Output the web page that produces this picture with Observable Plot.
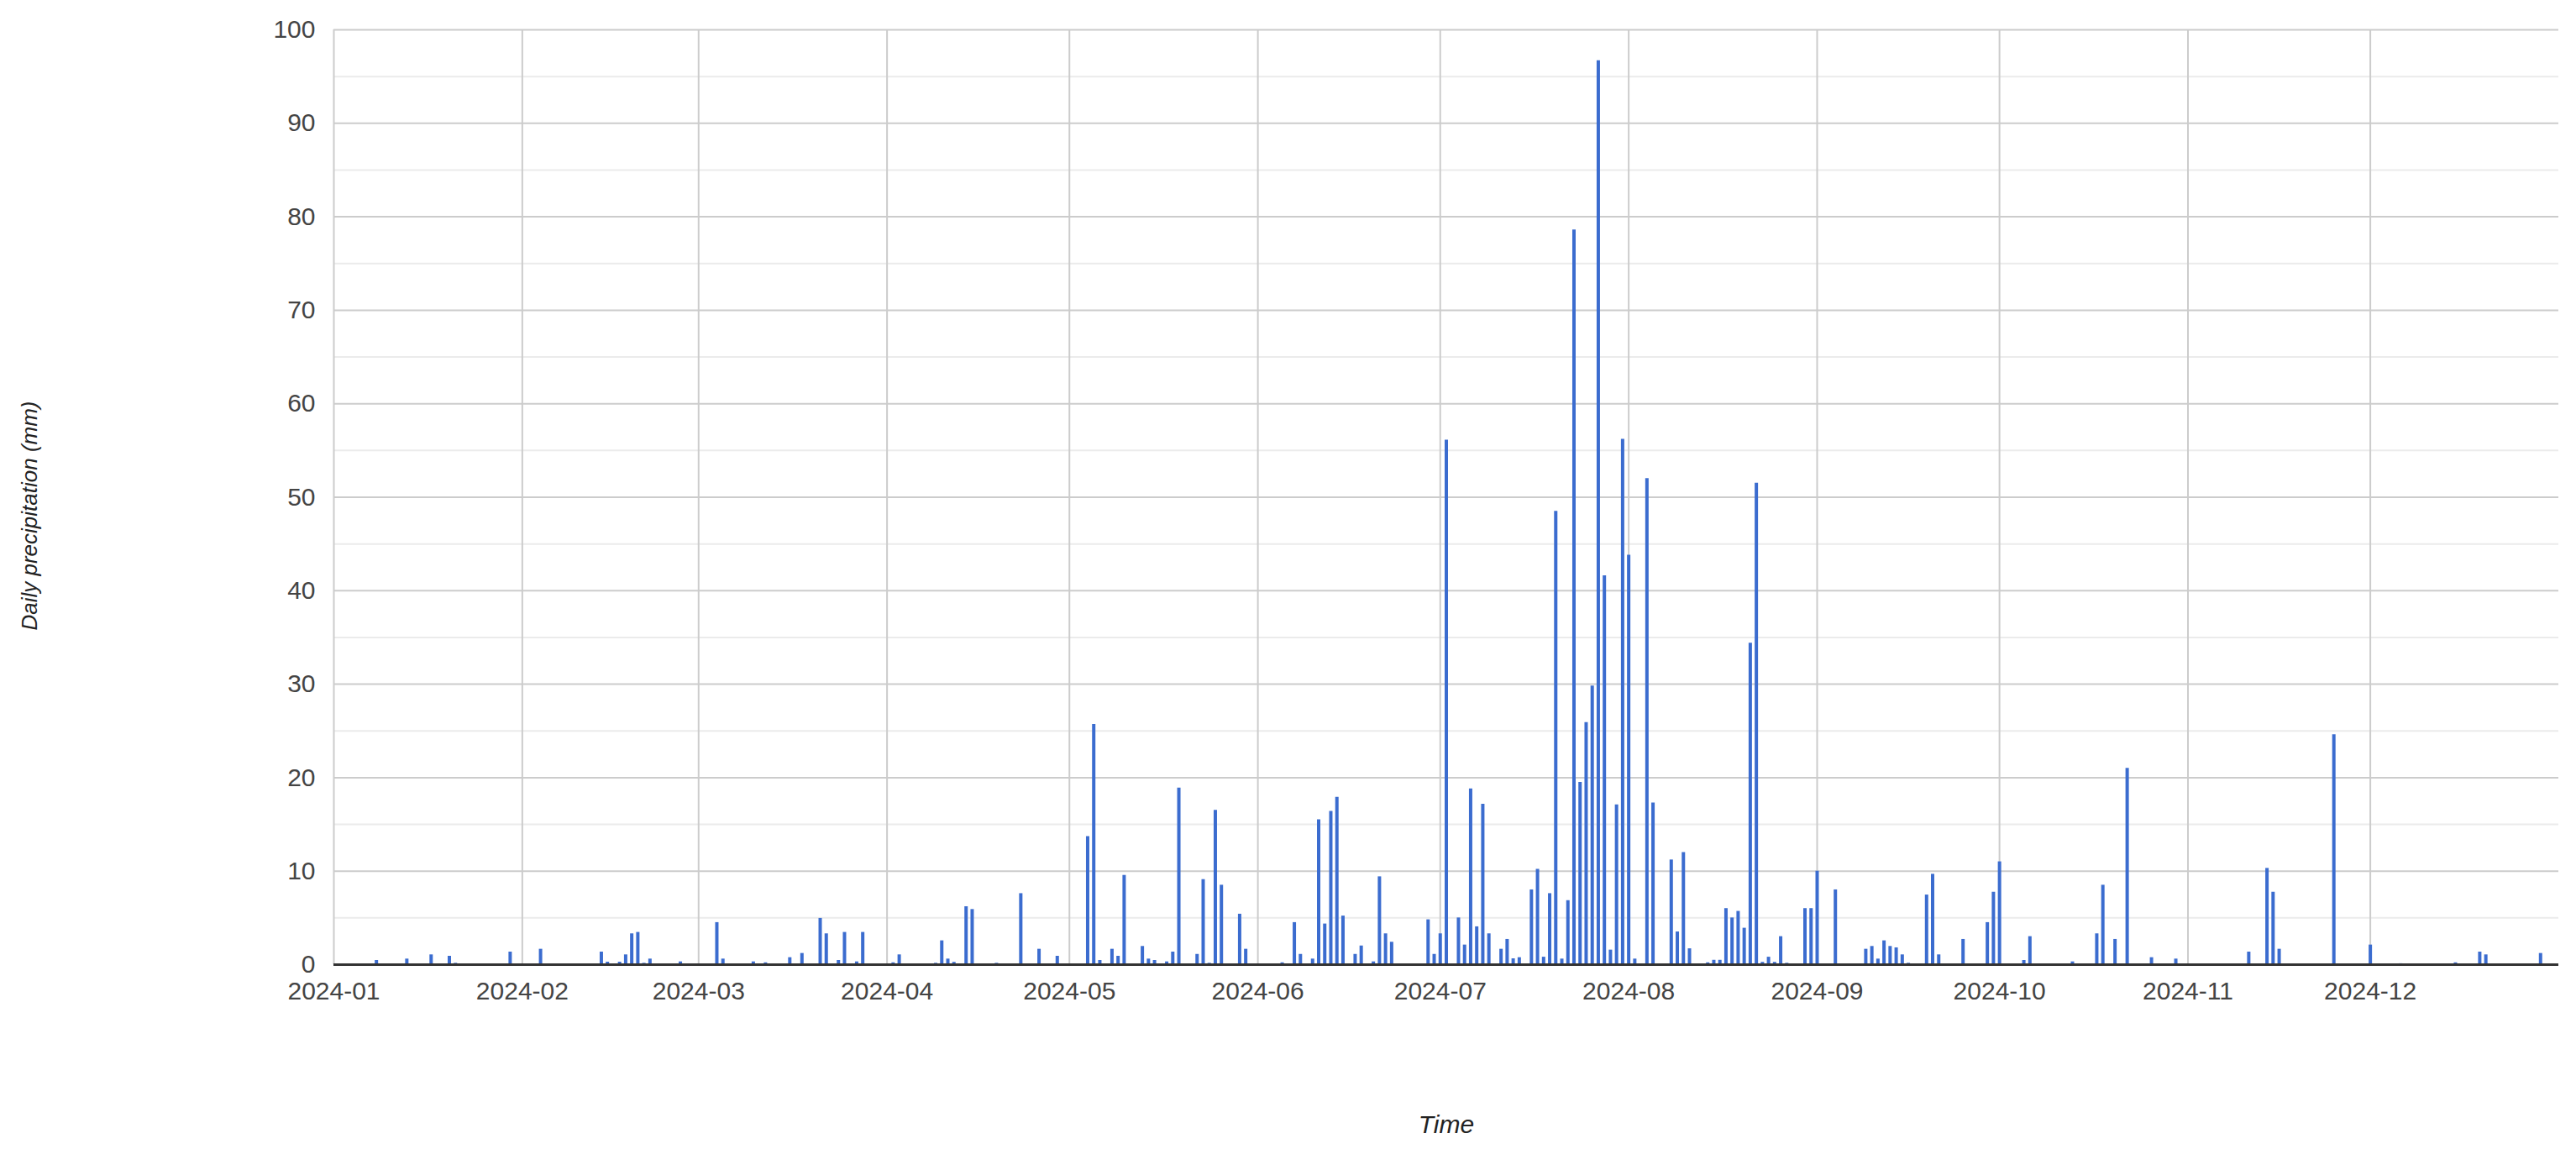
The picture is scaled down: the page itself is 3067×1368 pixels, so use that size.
<!DOCTYPE html>
<html>
<head>
<meta charset="utf-8">
<script src="https://cdn.jsdelivr.net/npm/d3@7"></script>
<script src="https://cdn.jsdelivr.net/npm/@observablehq/plot@0.6"></script>
<style>
html, body { margin: 0; padding: 0; background: #ffffff; }
#chart svg { display: block; }
</style>
</head>
<body>
<div id="chart"></div>
<script>
// Daily precipitation (mm), 2024 — only days with visible rain
const rainDates = [
  "2024-01-08","2024-01-13","2024-01-17","2024-01-20","2024-01-21","2024-01-30",
  "2024-02-04","2024-02-14","2024-02-15","2024-02-17","2024-02-18","2024-02-19","2024-02-20","2024-02-21","2024-02-22","2024-02-27",
  "2024-03-04","2024-03-05","2024-03-10","2024-03-12","2024-03-16","2024-03-18","2024-03-21","2024-03-22","2024-03-24","2024-03-25","2024-03-27","2024-03-28",
  "2024-04-02","2024-04-03","2024-04-09","2024-04-10","2024-04-11","2024-04-12","2024-04-14","2024-04-15","2024-04-19","2024-04-23","2024-04-26","2024-04-29",
  "2024-05-04","2024-05-05","2024-05-06","2024-05-08","2024-05-09","2024-05-10","2024-05-13","2024-05-14","2024-05-15","2024-05-17","2024-05-18","2024-05-19","2024-05-22","2024-05-23","2024-05-24","2024-05-25","2024-05-26","2024-05-29","2024-05-30",
  "2024-06-05","2024-06-07","2024-06-08","2024-06-10","2024-06-11","2024-06-12","2024-06-13","2024-06-14","2024-06-15","2024-06-17","2024-06-18","2024-06-20","2024-06-21","2024-06-22","2024-06-23","2024-06-29","2024-06-30",
  "2024-07-01","2024-07-02","2024-07-04","2024-07-05","2024-07-06","2024-07-07","2024-07-08","2024-07-09","2024-07-11","2024-07-12","2024-07-13","2024-07-14","2024-07-16","2024-07-17","2024-07-18","2024-07-19","2024-07-20","2024-07-21","2024-07-22","2024-07-23","2024-07-24","2024-07-25","2024-07-26","2024-07-27","2024-07-28","2024-07-29","2024-07-30","2024-07-31",
  "2024-08-01","2024-08-02","2024-08-04","2024-08-05","2024-08-08","2024-08-09","2024-08-10","2024-08-11","2024-08-14","2024-08-15","2024-08-16","2024-08-17","2024-08-18","2024-08-19","2024-08-20","2024-08-21","2024-08-22","2024-08-23","2024-08-24","2024-08-25","2024-08-26","2024-08-27","2024-08-30","2024-08-31",
  "2024-09-01","2024-09-04","2024-09-09","2024-09-10","2024-09-11","2024-09-12","2024-09-13","2024-09-14","2024-09-15","2024-09-16","2024-09-19","2024-09-20","2024-09-21","2024-09-25","2024-09-29","2024-09-30",
  "2024-10-01","2024-10-05","2024-10-06","2024-10-13","2024-10-17","2024-10-18","2024-10-20","2024-10-22","2024-10-26","2024-10-30",
  "2024-11-11","2024-11-14","2024-11-15","2024-11-16","2024-11-25",
  "2024-12-01","2024-12-06","2024-12-15","2024-12-19","2024-12-20","2024-12-29"
];
const rainMm = [
  0.45,0.6,1.05,0.9,0.15,1.35,
  1.65,1.35,0.27,0.27,1.05,3.3,3.45,0.15,0.6,0.3,
  4.5,0.6,0.3,0.2,0.75,1.2,4.95,3.3,0.45,3.45,0.3,3.45,
  0.2,1.05,0.15,2.55,0.6,0.25,6.2,5.9,0.15,7.6,1.65,0.9,
  13.7,25.7,0.45,1.65,0.9,9.55,1.95,0.6,0.45,0.3,1.35,18.9,1.1,9.1,0.15,16.5,8.5,5.4,1.65,
  0.2,4.5,1.1,0.6,15.5,4.35,16.4,17.9,5.2,1.1,2.0,0.3,9.4,3.3,2.4,4.8,1.1,
  3.3,56.1,5.0,2.1,18.8,4.05,17.15,3.3,1.65,2.7,0.63,0.75,8.0,10.2,0.8,7.6,48.5,0.6,6.85,78.6,19.5,25.9,29.8,96.7,41.6,1.56,17.1,56.2,
  43.8,0.6,52.0,17.3,11.2,3.5,12.0,1.7,0.2,0.47,0.47,6.0,5.0,5.7,3.9,34.4,51.5,0.25,0.8,0.25,3.0,0.15,6.0,6.0,
  10.0,8.0,1.65,1.95,0.6,2.55,1.95,1.8,1.05,0.15,7.45,9.67,1.05,2.7,4.5,7.75,
  11.0,0.45,3.0,0.3,3.3,8.5,2.7,21.0,0.75,0.6,
  1.35,10.3,7.75,1.65,24.6,
  2.1,0.1,0.2,1.35,1.05,1.2
];
const monthTicks = ["2024-01-01","2024-02-01","2024-03-01","2024-04-01","2024-05-01","2024-06-01",
                    "2024-07-01","2024-08-01","2024-09-01","2024-10-01","2024-11-01","2024-12-01"];
const yMajorTicks = [0,10,20,30,40,50,60,70,80,90,100];
const yMinorTicks = [5,15,25,35,45,55,65,75,85,95];
const xDomain = ["2024-01-01","2025-01-01"];
const yTitle = "Daily precipitation (mm)";
const xTitle = "Time";

const data = rainDates.map((d, i) => ({date: new Date(d + "T00:00:00Z"), mm: rainMm[i]}));
const monthDates = monthTicks.map(d => new Date(d + "T00:00:00Z"));

const chart = Plot.plot({
  width: 3067,
  height: 1368,
  marginLeft: 397,
  marginRight: 21,
  marginTop: 35,
  marginBottom: 220,
  style: {fontFamily: "'Liberation Sans', Arial, sans-serif", fontSize: "30px", color: "#444", background: "#ffffff"},
  x: {type: "utc", domain: xDomain.map(d => new Date(d + "T00:00:00Z"))},
  y: {domain: [0, 100]},
  marks: [
    Plot.ruleY(yMinorTicks, {stroke: "#ebebeb", strokeWidth: 2}),
    Plot.ruleY(yMajorTicks, {stroke: "#cccccc", strokeWidth: 2}),
    Plot.ruleX(monthDates, {stroke: "#cccccc", strokeWidth: 2}),
    Plot.ruleX(data, {x: "date", y1: 0, y2: "mm", stroke: "#3b6ccf", strokeWidth: 4}),
    Plot.ruleY([0], {stroke: "#333333", strokeWidth: 3}),
    Plot.axisY({ticks: yMajorTicks, tickSize: 0, tickPadding: 22, label: null, fontSize: 30, fill: "#444"}),
    Plot.axisX({ticks: monthDates, tickFormat: d3.utcFormat("%Y-%m"), tickSize: 0, tickPadding: 20, label: null, fontSize: 30, fill: "#444"}),
    Plot.text([xTitle], {frameAnchor: "bottom", dy: 200, fontStyle: "italic", fontSize: 30, fill: "#222"}),
    Plot.text([yTitle], {frameAnchor: "left", textAnchor: "middle", dx: -362, dy: 22, rotate: -90, fontStyle: "italic", fontSize: 26, fill: "#222"})
  ]
});
document.getElementById("chart").appendChild(chart);
</script>
</body>
</html>
